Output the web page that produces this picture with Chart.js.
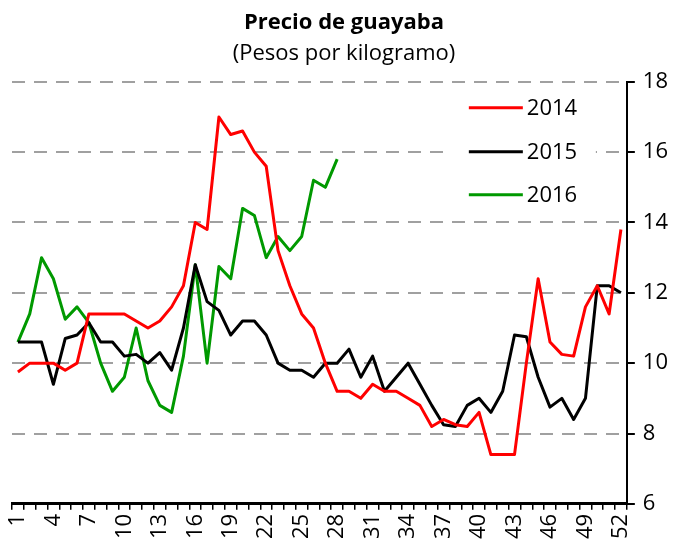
<!DOCTYPE html>
<html>
<head>
<meta charset="utf-8">
<script src="https://cdn.jsdelivr.net/npm/chart.js@4/dist/chart.umd.min.js"></script>
<style>
  html, body { margin: 0; padding: 0; background: #fff; }
  #wrap { width: 681px; height: 546px; }
</style>
</head>
<body>
<div id="wrap"><canvas id="c" width="681" height="546"></canvas></div>
<script>
// Semanas del año
const semanas = ['1','2','3','4','5','6','7','8','9','10','11','12','13','14','15','16','17','18','19','20',
  '21','22','23','24','25','26','27','28','29','30','31','32','33','34','35','36','37','38','39','40',
  '41','42','43','44','45','46','47','48','49','50','51','52'];

// Precio semanal (pesos por kilogramo)
const precio2014 = [9.75, 10.0, 10.0, 10.0, 9.8, 10.0, 11.4, 11.4, 11.4, 11.4,
  11.2, 11.0, 11.2, 11.6, 12.2, 14.0, 13.8, 17.0, 16.5, 16.6,
  16.0, 15.6, 13.2, 12.2, 11.4, 11.0, 10.0, 9.2, 9.2, 9.0,
  9.4, 9.2, 9.2, 9.0, 8.8, 8.2, 8.4, 8.25, 8.2, 8.6,
  7.4, 7.4, 7.4, 10.0, 12.4, 10.6, 10.25, 10.2, 11.6, 12.2,
  11.4, 13.8];
const precio2015 = [10.6, 10.6, 10.6, 9.4, 10.7, 10.8, 11.15, 10.6, 10.6, 10.2,
  10.25, 10.0, 10.3, 9.8, 11.0, 12.8, 11.75, 11.5, 10.8, 11.2,
  11.2, 10.8, 10.0, 9.8, 9.8, 9.6, 10.0, 10.0, 10.4, 9.6,
  10.2, 9.2, 9.6, 10.0, 9.4, 8.8, 8.25, 8.2, 8.8, 9.0,
  8.6, 9.2, 10.8, 10.75, 9.6, 8.75, 9.0, 8.4, 9.0, 12.2,
  12.2, 12.0];
const precio2016 = [10.6, 11.4, 13.0, 12.4, 11.25, 11.6, 11.15, 10.0, 9.2, 9.6,
  11.0, 9.5, 8.8, 8.6, 10.2, 12.8, 10.0, 12.75, 12.4, 14.4,
  14.2, 13.0, 13.6, 13.2, 13.6, 15.2, 15.0, 15.8];

const series = [
  { label: '2014', data: precio2014, color: '#ff0000' },
  { label: '2015', data: precio2015, color: '#000000' },
  { label: '2016', data: precio2016, color: '#009900' }
];

const FONT = "'Open Sans', 'Liberation Sans', sans-serif";

// Leyenda dentro del área de trazado, con fondo blanco sobre la cuadrícula
const leyendaInterna = {
  id: 'leyendaInterna',
  beforeDatasetsDraw(chart) {
    const { ctx, chartArea } = chart;
    const r = chartArea.right, t = chartArea.top;
    ctx.save();
    ctx.fillStyle = '#ffffff';
    ctx.fillRect(r - 175, t + 8, 144, 124);
    ctx.font = '22px ' + FONT;
    ctx.textBaseline = 'middle';
    ctx.textAlign = 'left';
    const filas = [26, 70, 113];
    chart.data.datasets.forEach((ds, i) => {
      const y = t + filas[i];
      ctx.strokeStyle = ds.borderColor;
      ctx.lineWidth = 3;
      ctx.beginPath();
      ctx.moveTo(r - 158, y);
      ctx.lineTo(r - 104, y);
      ctx.stroke();
      ctx.fillStyle = '#000';
      ctx.fillText(ds.label, r - 100, y + 1);
    });
    ctx.restore();
  }
};

new Chart(document.getElementById('c'), {
  type: 'line',
  data: {
    labels: semanas,
    datasets: series.map(s => ({
      label: s.label,
      data: s.data,
      borderColor: s.color,
      backgroundColor: s.color,
      borderWidth: 3,
      pointRadius: 0,
      tension: 0,
      borderJoinStyle: 'round',
      fill: false
    }))
  },
  options: {
    responsive: false,
    animation: false,
    layout: { padding: { left: 12, right: 5, top: 0, bottom: 3 } },
    plugins: {
      legend: { display: false },
      tooltip: { enabled: false },
      title: {
        display: true,
        text: 'Precio de guayaba',
        color: '#000',
        font: { family: FONT, size: 22, weight: 'bold' },
        padding: { top: 10, bottom: 2 }
      },
      subtitle: {
        display: true,
        text: '(Pesos por kilogramo)',
        color: '#000',
        font: { family: FONT, size: 22 },
        padding: { top: 2, bottom: 15 }
      }
    },
    scales: {
      x: {
        offset: true,
        grid: {
          offset: true,
          drawOnChartArea: false,
          drawTicks: true,
          tickLength: 6,
          color: '#000',
          lineWidth: 1.5
        },
        border: { display: true, color: '#000', width: 3 },
        ticks: {
          autoSkip: false,
          minRotation: 90,
          maxRotation: 90,
          padding: 4,
          color: '#000',
          font: { family: FONT, size: 22 },
          callback: (v, i) => (i % 3 === 0 ? semanas[i] : '')
        }
      },
      y: {
        position: 'right',
        min: 6,
        max: 18,
        grid: {
          color: '#a0a0a0',
          lineWidth: 2,
          tickLength: 8,
          tickColor: '#000',
          tickWidth: 2,
          tickBorderDash: []
        },
        border: { display: true, color: '#000', width: 2, dash: [13, 9] },
        ticks: {
          stepSize: 2,
          padding: 8,
          color: '#000',
          font: { family: FONT, size: 22 }
        }
      }
    }
  },
  plugins: [leyendaInterna]
});
</script>
</body>
</html>
